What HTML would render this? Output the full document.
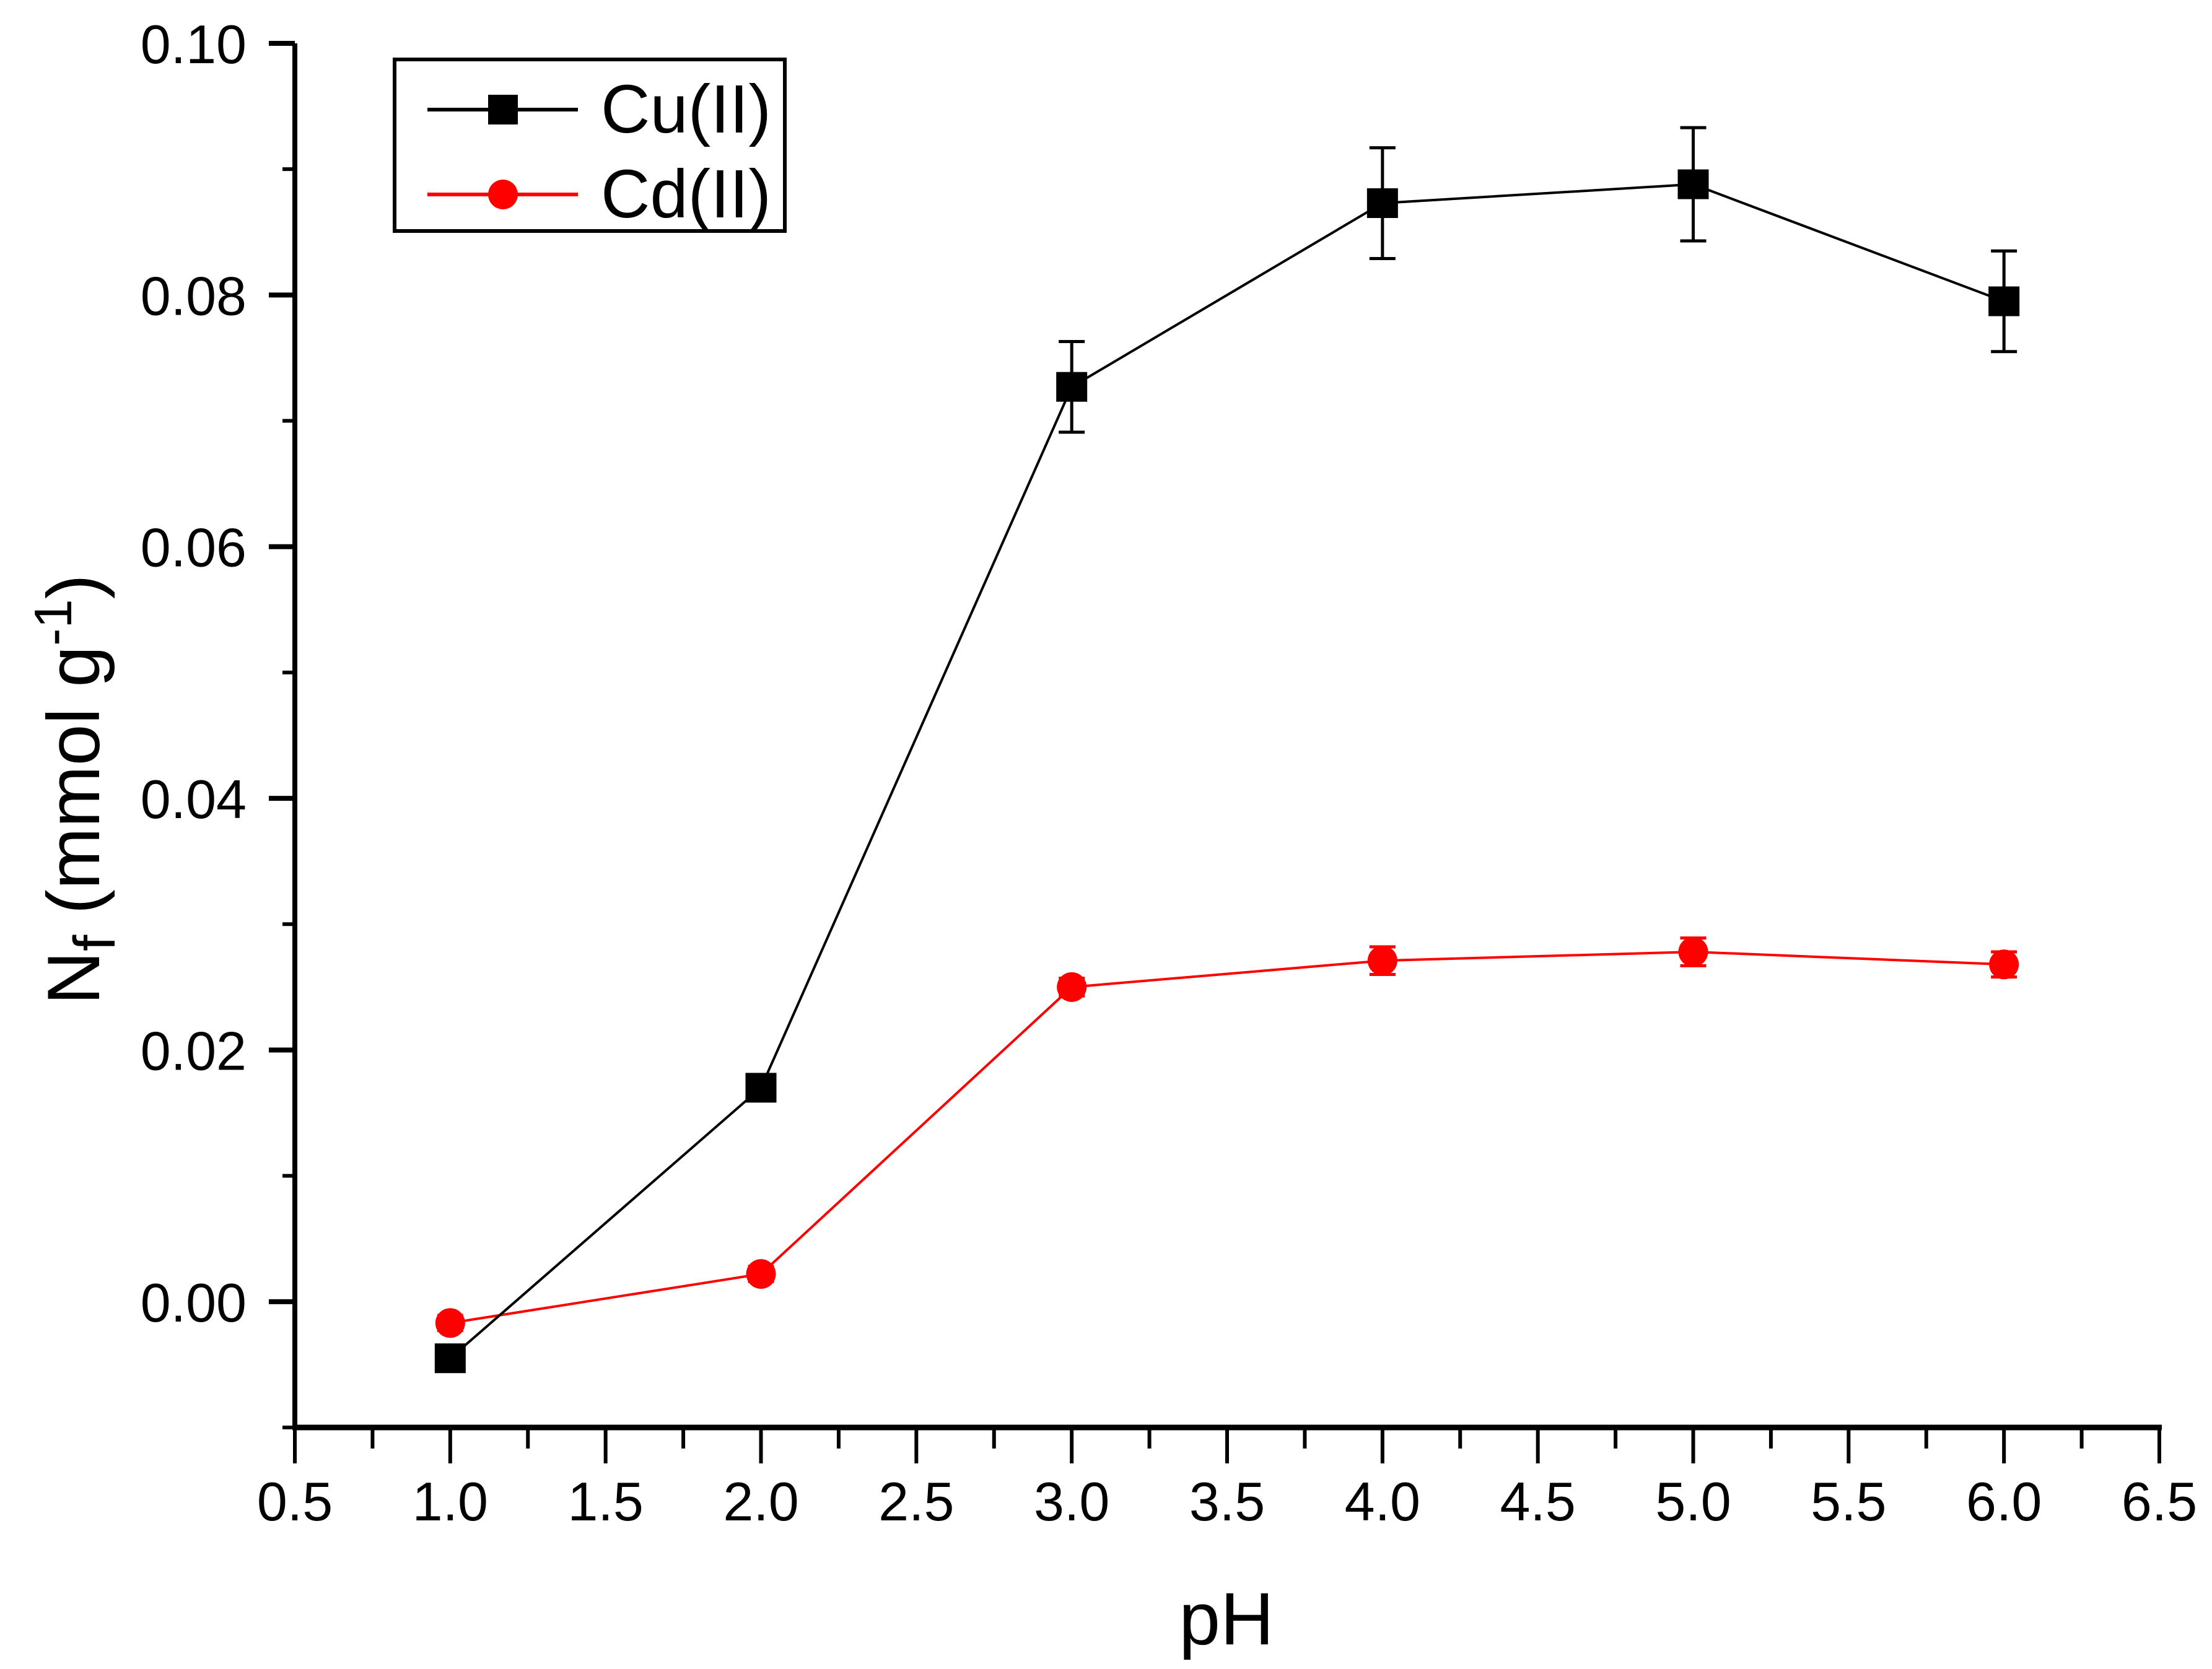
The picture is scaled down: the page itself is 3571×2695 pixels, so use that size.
<!DOCTYPE html>
<html><head><meta charset="utf-8"><style>
html,body{margin:0;padding:0;background:#fff;}
svg{display:block;font-family:"Liberation Sans",Arial,sans-serif;}
</style></head><body>
<svg id="chart" width="3571" height="2695" viewBox="0 0 3571 2695" xmlns="http://www.w3.org/2000/svg">
<g id="axes"></g>
<g id="series"></g>
<g>
  <rect x="637" y="96" width="630" height="277" fill="#fff" stroke="#000" stroke-width="6"/>
  <line x1="690" y1="177" x2="933" y2="177" stroke="#000" stroke-width="6"/>
  <rect x="788" y="153" width="48" height="48" fill="#000"/>
  <text x="970" y="214" font-size="110">Cu(II)</text>
  <line x1="690" y1="314" x2="933" y2="314" stroke="#f00" stroke-width="6"/>
  <circle cx="812" cy="314" r="24" fill="#f00"/>
  <text x="970" y="351" font-size="110">Cd(II)</text>
</g>
<text x="1980" y="2655" font-size="120" text-anchor="middle">pH</text>
<text transform="translate(160,1275) rotate(-90)" font-size="120" text-anchor="middle">N<tspan font-size="95" dy="25">f</tspan><tspan dy="-25"> (mmol g</tspan><tspan font-size="85" dy="-45">-1</tspan><tspan dy="45">)</tspan></text>
</svg>
<script>
const xCats = [1, 2, 3, 4, 5, 6];
const cuVals = [-0.0045, 0.0170, 0.0727, 0.0873, 0.0888, 0.0795];
const cuErr = [0.0005, 0.0005, 0.0036, 0.0044, 0.0045, 0.0040];
const cdVals = [-0.0017, 0.0022, 0.0250, 0.0271, 0.0278, 0.0268];
const cdErr = [0.0006, 0.0006, 0.0007, 0.0011, 0.0011, 0.0010];
const xTickLabels = ["0.5","1.0","1.5","2.0","2.5","3.0","3.5","4.0","4.5","5.0","5.5","6.0","6.5"];
const yTickLabels = ["0.00","0.02","0.04","0.06","0.08","0.10"];

const X0=476, X1=3486, Y0=2305, Y1=70;
const xMin=0.5, xMax=6.5, yMin=-0.01, yMax=0.10;
function sx(v){return X0+(v-xMin)/(xMax-xMin)*(X1-X0);}
function sy(v){return Y0-(v-yMin)/(yMax-yMin)*(Y0-Y1);}
const NS="http://www.w3.org/2000/svg";
function mk(tag,attrs,parent){const e=document.createElementNS(NS,tag);for(const k in attrs)e.setAttribute(k,attrs[k]);parent.appendChild(e);return e;}
const axes=document.getElementById('axes');
const series=document.getElementById('series');

let e=mk('line',{x1:X0,y1:Y1,x2:X0,y2:Y0+4,stroke:'#000','stroke-width':8},axes);


e=mk('line',{x1:X0-4,y1:Y0,x2:X1+4,y2:Y0,stroke:'#000','stroke-width':9},axes);



xTickLabels.forEach((lab,i)=>{
  const v=parseFloat(lab);
  const x=sx(v);
  let t=mk('line',{x1:x,y1:Y0,x2:x,y2:Y0+58,stroke:'#000','stroke-width':6},axes);
  
  
  if(i<xTickLabels.length-1){
    t=mk('line',{x1:sx(v+0.25),y1:Y0,x2:sx(v+0.25),y2:Y0+34,stroke:'#000','stroke-width':6},axes);
    
    
  }
  const tx=mk('text',{x:x,y:2455,'font-size':88,'text-anchor':'middle'},axes);
  tx.textContent=lab;
  
  
});
yTickLabels.forEach((lab)=>{
  const v=parseFloat(lab);
  const y=sy(v);
  let t=mk('line',{x1:X0-42,y1:y,x2:X0,y2:y,stroke:'#000','stroke-width':8},axes);
  
  
  t=mk('line',{x1:X0-20,y1:sy(v-0.01),x2:X0,y2:sy(v-0.01),stroke:'#000','stroke-width':6},axes);
  
  
  const tx=mk('text',{x:398,y:y+32,'font-size':88,'text-anchor':'end'},axes);
  tx.textContent=lab;
  
  
});

function drawSeries(vals,errs,color,name,square){
  const pts=xCats.map((c,i)=>sx(c)+','+sy(vals[i])).join(' ');
  const pl=mk('polyline',{points:pts,fill:'none',stroke:color,'stroke-width':4},series);
  
  
  xCats.forEach((c,i)=>{
    const x=sx(c), y=sy(vals[i]), yt=sy(vals[i]+errs[i]), yb=sy(vals[i]-errs[i]);
    const g=mk('g',{},series);
    
    
    mk('line',{x1:x,y1:yt,x2:x,y2:yb,stroke:color,'stroke-width':5},g);
    mk('line',{x1:x-21,y1:yt,x2:x+21,y2:yt,stroke:color,'stroke-width':5},g);
    mk('line',{x1:x-21,y1:yb,x2:x+21,y2:yb,stroke:color,'stroke-width':5},g);
    let m;
    if(square) m=mk('rect',{x:x-25,y:y-24,width:50,height:48,fill:color},series);
    else m=mk('circle',{cx:x,cy:y,r:24,fill:color},series);
    
    
  });
}
drawSeries(cdVals,cdErr,'#f00','cd',false);
drawSeries(cuVals,cuErr,'#000','cu',true);
</script>
</body></html>
